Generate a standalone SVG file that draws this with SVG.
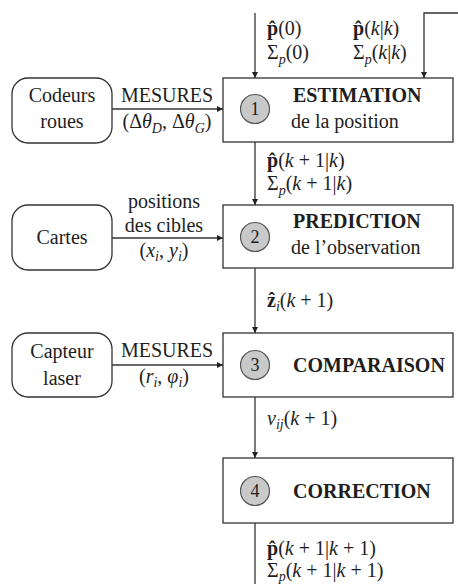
<svg xmlns="http://www.w3.org/2000/svg" width="458" height="584" viewBox="0 0 458 584">
<style>
text{font-family:"Liberation Serif","Times New Roman",serif;font-size:20px;fill:#1e1e1e}
.b{font-weight:bold}
.i{font-style:italic}
.s{font-size:14px;font-style:italic}
.m{text-anchor:middle}
.n{font-size:18px;text-anchor:middle}
.box{fill:#fff;stroke:#333;stroke-width:1.3}
.circ{fill:#c9c9c9;stroke:#555;stroke-width:1.2}
.ln{fill:none;stroke:#333;stroke-width:1.3}
</style>
<defs>
<marker id="ah" viewBox="0 0 10 10" refX="10" refY="5" markerWidth="6" markerHeight="6" markerUnits="userSpaceOnUse" orient="auto">
<path d="M0,0 L10,5 L0,10 Z" fill="#222"/>
</marker>
</defs>
<g id="connectors">
<line class="ln" x1="255" y1="13" x2="255" y2="78" marker-end="url(#ah)"/>
<polyline class="ln" points="458,13 424,13 424,78" marker-end="url(#ah)"/>
<line class="ln" x1="255" y1="142" x2="255" y2="205" marker-end="url(#ah)"/>
<line class="ln" x1="255" y1="268" x2="255" y2="333" marker-end="url(#ah)"/>
<line class="ln" x1="255" y1="397" x2="255" y2="458" marker-end="url(#ah)"/>
<line class="ln" x1="255" y1="523" x2="255" y2="584"/>
<line class="ln" x1="112" y1="109" x2="223" y2="109" marker-end="url(#ah)"/>
<line class="ln" x1="112" y1="238" x2="223" y2="238" marker-end="url(#ah)"/>
<line class="ln" x1="112" y1="365" x2="223" y2="365" marker-end="url(#ah)"/>
<text x="267" y="35"><tspan class="b">p̂</tspan>(0)</text>
<text x="267" y="59">Σ<tspan class="s" dy="5">p</tspan><tspan dy="-5">(0)</tspan></text>
<text x="353" y="35"><tspan class="b">p̂</tspan>(<tspan class="i">k</tspan>|<tspan class="i">k</tspan>)</text>
<text x="353" y="59">Σ<tspan class="s" dy="5">p</tspan><tspan dy="-5">(</tspan><tspan class="i">k</tspan>|<tspan class="i">k</tspan>)</text>
<text class="m" x="167" y="102">MESURES</text>
<text class="m" x="167" y="128">(Δ<tspan class="i">θ</tspan><tspan class="s" dy="5">D</tspan><tspan dy="-5">, Δ</tspan><tspan class="i">θ</tspan><tspan class="s" dy="5">G</tspan><tspan dy="-5">)</tspan></text>
<text x="267" y="167"><tspan class="b">p̂</tspan>(<tspan class="i">k</tspan> + 1|<tspan class="i">k</tspan>)</text>
<text x="267" y="190">Σ<tspan class="s" dy="5">p</tspan><tspan dy="-5">(</tspan><tspan class="i">k</tspan> + 1|<tspan class="i">k</tspan>)</text>
<text class="m" x="164" y="208">positions</text>
<text class="m" x="164" y="232">des cibles</text>
<text class="m" x="164" y="257">(<tspan class="i">x</tspan><tspan class="s" dy="4">i</tspan><tspan dy="-4">, </tspan><tspan class="i">y</tspan><tspan class="s" dy="4">i</tspan><tspan dy="-4">)</tspan></text>
<text x="267" y="307"><tspan class="b">ẑ</tspan><tspan class="s" dy="4">i</tspan><tspan dy="-4">(</tspan><tspan class="i">k</tspan> + 1)</text>
<text class="m" x="167" y="357">MESURES</text>
<text class="m" x="164" y="383">(<tspan class="i">r</tspan><tspan class="s" dy="4">i</tspan><tspan dy="-4">, </tspan><tspan class="i">φ</tspan><tspan class="s" dy="4">i</tspan><tspan dy="-4">)</tspan></text>
<text x="267" y="425"><tspan class="i">v</tspan><tspan class="s" dy="4">ij</tspan><tspan dy="-4">(</tspan><tspan class="i">k</tspan> + 1)</text>
<text x="267" y="555"><tspan class="b">p̂</tspan>(<tspan class="i">k</tspan> + 1|<tspan class="i">k</tspan> + 1)</text>
<text x="267" y="577">Σ<tspan class="s" dy="4">p</tspan><tspan dy="-4">(</tspan><tspan class="i">k</tspan> + 1|<tspan class="i">k</tspan> + 1)</text>
</g>
<g id="codeurs">
<rect class="box" x="12" y="78" width="100" height="65" rx="16"/>
<text class="m" x="62" y="102">Codeurs</text>
<text class="m" x="62" y="128">roues</text>
</g>
<g id="cartes">
<rect class="box" x="12" y="205" width="100" height="65" rx="16"/>
<text class="m" x="62" y="244">Cartes</text>
</g>
<g id="capteur">
<rect class="box" x="12" y="333" width="100" height="64" rx="16"/>
<text class="m" x="62" y="358">Capteur</text>
<text class="m" x="62" y="385">laser</text>
</g>
<g id="estimation">
<rect class="box" x="223" y="78" width="230" height="64"/>
<circle class="circ" cx="255" cy="109" r="14.5"/>
<text class="n" x="255" y="115">1</text>
<text class="b" x="293" y="102">ESTIMATION</text>
<text x="291" y="128">de la position</text>
</g>
<g id="prediction">
<rect class="box" x="223" y="205" width="230" height="63"/>
<circle class="circ" cx="255" cy="237" r="14.5"/>
<text class="n" x="255" y="243">2</text>
<text class="b" x="293" y="228">PREDICTION</text>
<text x="291" y="254">de l’observation</text>
</g>
<g id="comparaison">
<rect class="box" x="223" y="333" width="230" height="64"/>
<circle class="circ" cx="255" cy="365" r="14.5"/>
<text class="n" x="255" y="371">3</text>
<text class="b" x="293" y="372">COMPARAISON</text>
</g>
<g id="correction">
<rect class="box" x="223" y="458" width="230" height="65"/>
<circle class="circ" cx="255" cy="491" r="14.5"/>
<text class="n" x="255" y="497">4</text>
<text class="b" x="293" y="498">CORRECTION</text>
</g>
</svg>
